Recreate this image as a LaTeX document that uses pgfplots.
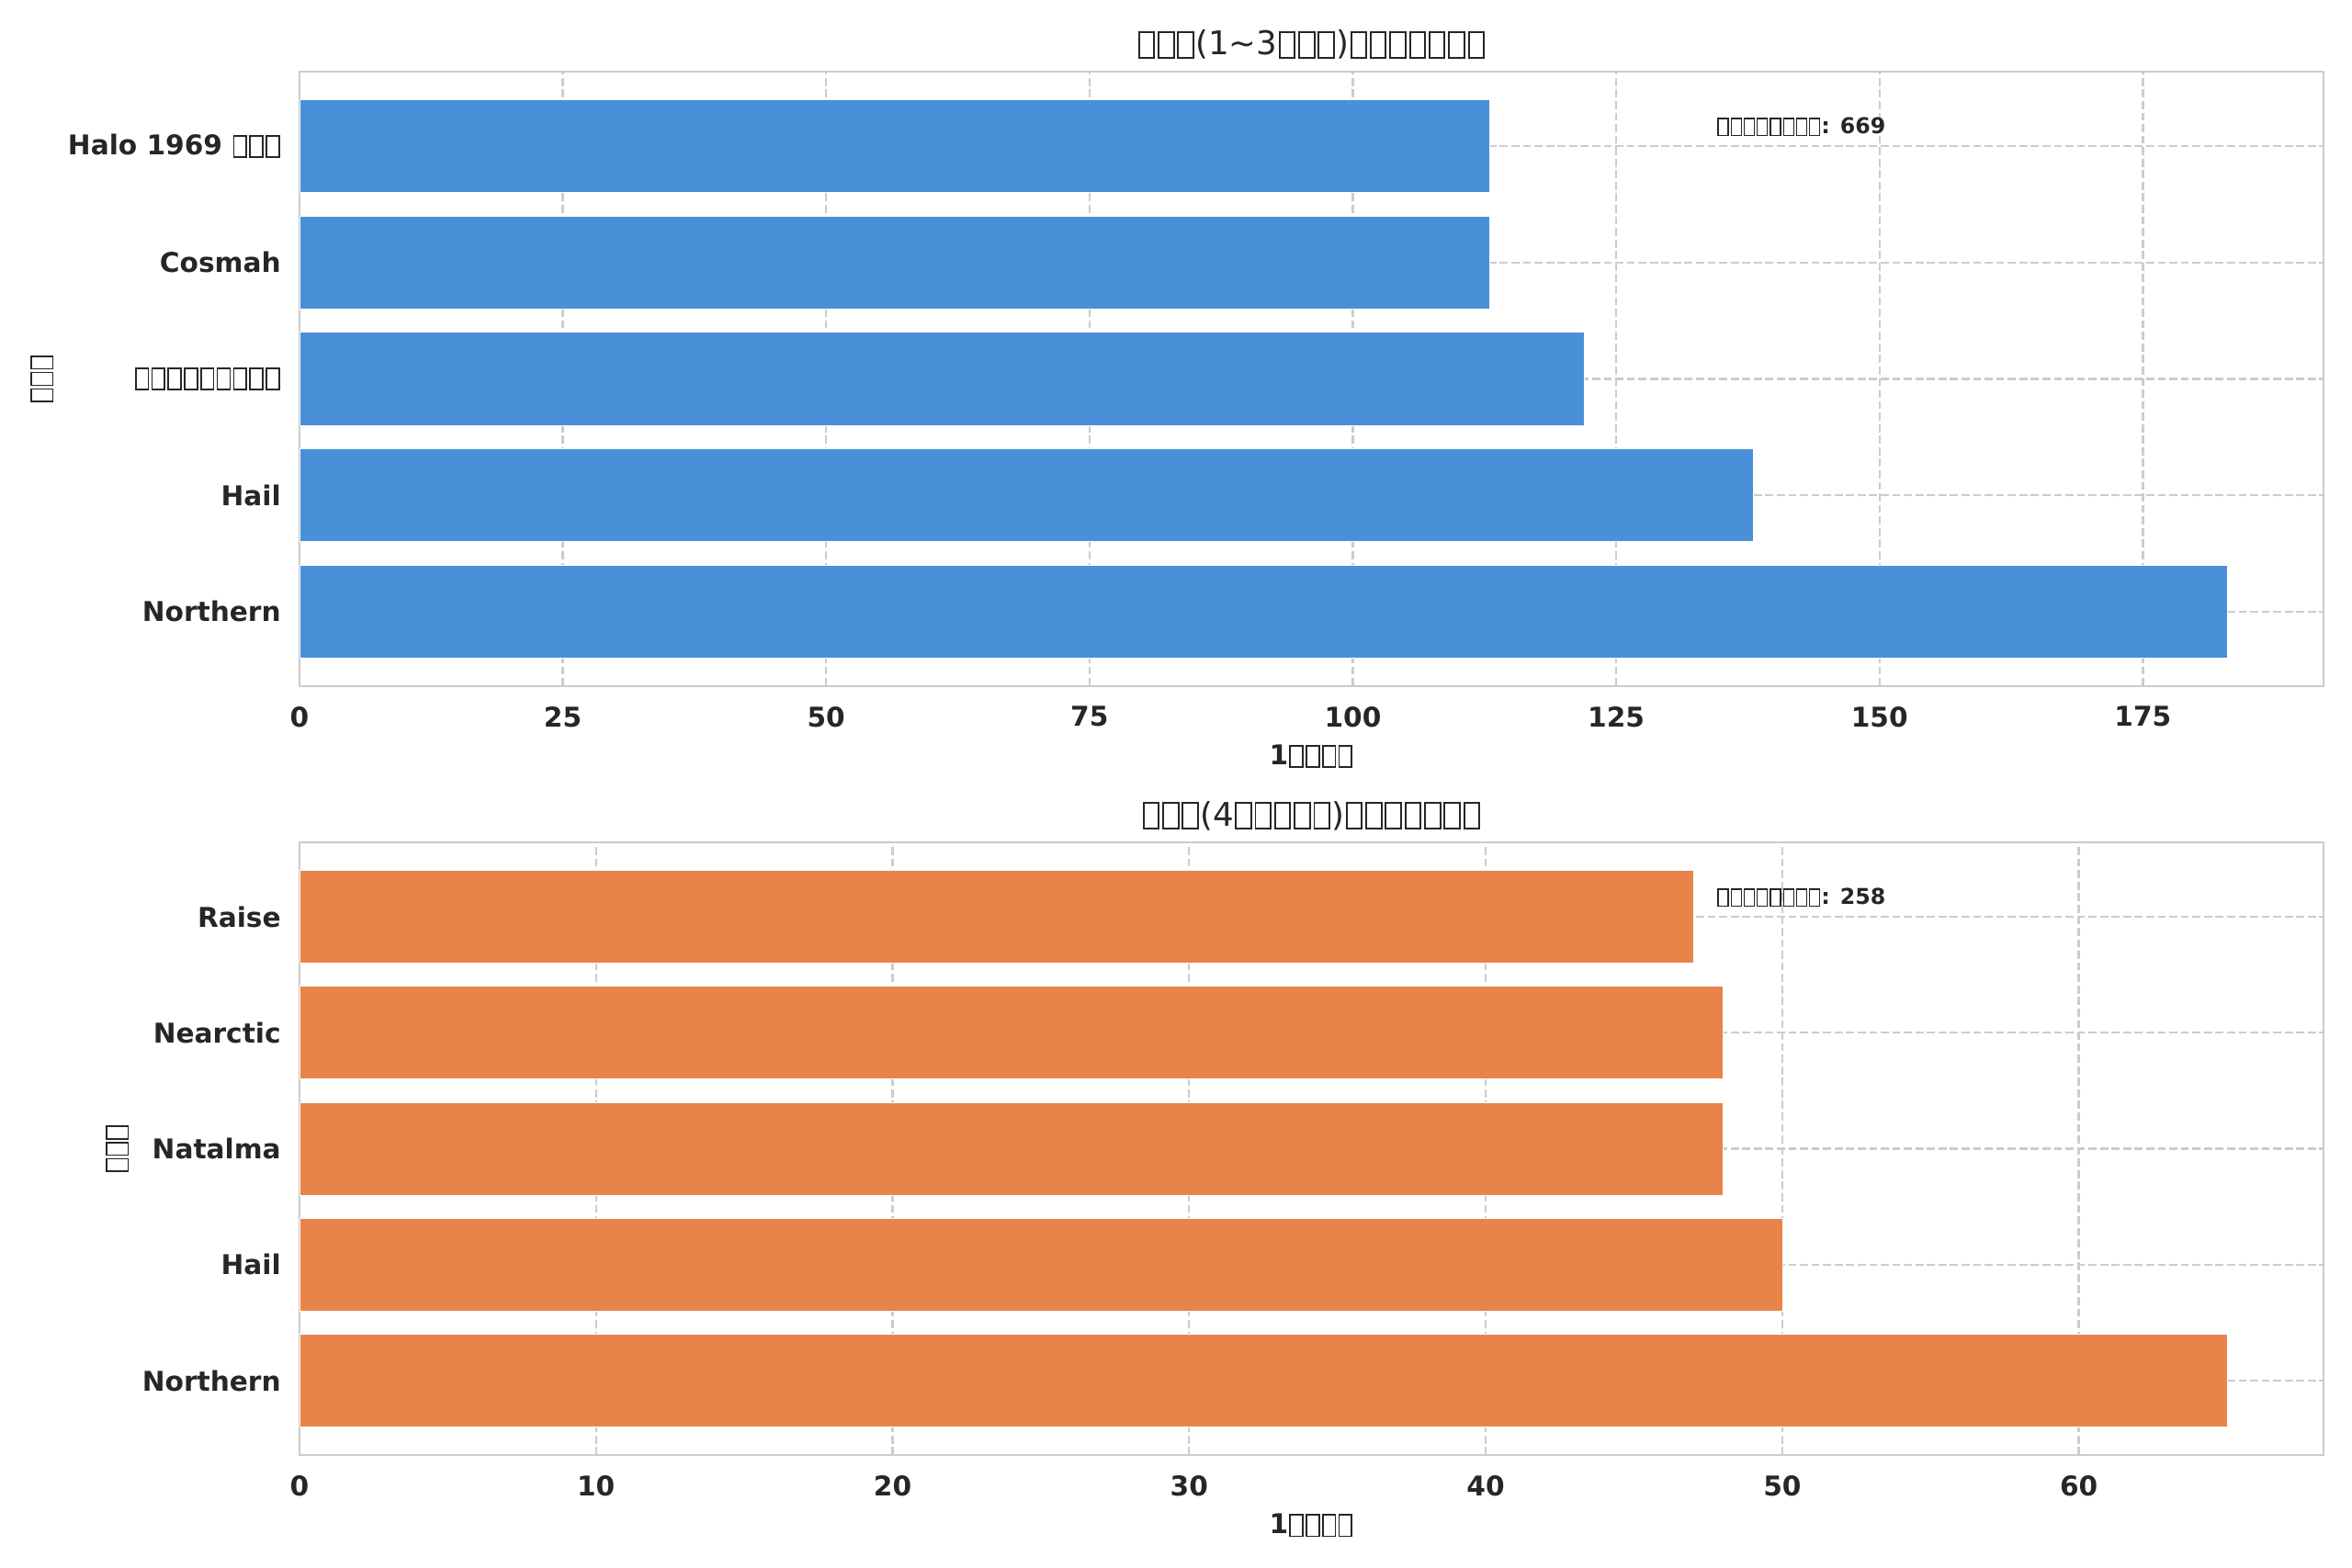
\documentclass[border=0pt]{standalone}
\usepackage{pgfplots}
\pgfplotsset{compat=1.18}
\usepackage{fontspec}
\setmainfont{DejaVu Sans}
\definecolor{txt}{HTML}{262626}
\definecolor{gridc}{HTML}{CCCCCC}
\definecolor{barblue}{HTML}{4A90D9}
\definecolor{barorange}{HTML}{E8844A}
\newcommand\tofu{\kern0.04em\hbox to 0.52em{\vrule width .055em height .72em depth .12em\hss\lower.12em\vbox to .84em{\hrule height .055em width .41em\vss\hrule height .055em width .41em}\hss\vrule width .055em height .72em depth .12em}\kern0.04em}
\newcommand\tofuiii{\tofu\tofu\tofu}
\pgfplotsset{mystyle/.style={
  scale only axis, width=929.4pt,
  xbar, bar width=0.8,
  xmin=0, ymin=-0.64, ymax=4.64,
  ytick={0,...,4},
  axis line style={draw=gridc, line width=1pt},
  major tick length=0pt,
  tick style={draw=none},
  xmajorgrids=true, ymajorgrids=true,
  major grid style={draw=gridc, line width=1pt, dash pattern=on 3.7pt off 1.6pt},
  ticklabel style={font=\fontsize{12.5}{15}\selectfont\bfseries, text=txt},
  /pgf/number format/assume math mode=true,
  xticklabel shift=5.8pt, yticklabel shift=5pt,
  xlabel style={at={(axis description cs:0.5,0)}, anchor=north, yshift=-23.4pt, font=\fontsize{12.5}{15}\selectfont\bfseries, text=txt},
  ylabel style={anchor=center, font=\fontsize{12.5}{15}\selectfont\bfseries, text=txt},
  title style={at={(axis description cs:0.5,1)}, anchor=base, yshift=1.6pt, font=\fontsize{15}{18}\selectfont, text=txt},
}}
\begin{document}
\begin{tikzpicture}
\path[use as bounding box] (0,0) rectangle (1080pt,-720pt);
\begin{axis}[mystyle,
  at={(137.5pt,-32.9pt)}, anchor=north west, height=282.2pt,
  xmax=192.15, xtick={0,25,...,175},
  yticklabels={Northern,Hail,\tofuiii\tofuiii\tofuiii,Cosmah,Halo 1969 \tofuiii},
  title={\tofuiii(1\textasciitilde3\tofuiii)\tofuiii\tofuiii\tofu},
  xlabel={1\tofu\tofu\tofu\tofu},
  ylabel={\tofuiii},
  ylabel style={at={(axis description cs:-0.1271,0.5)}},
]
\addplot[fill=barblue, draw=white, line width=0.3pt] coordinates {(183,0) (138,1) (122,2) (113,3) (113,4)};
\node[anchor=west, font=\fontsize{10}{12}\selectfont\bfseries, text=txt, inner sep=0pt] at (rel axis cs:0.7,0.91) {\tofu\tofu\tofu\tofu\tofu\tofu\tofu\tofu: 669};
\end{axis}
\begin{axis}[mystyle,
  at={(137.5pt,-386.9pt)}, anchor=north west, height=281.4pt,
  xmax=68.25, xtick={0,10,...,60},
  yticklabels={Northern,Hail,Natalma,Nearctic,Raise},
  title={\tofuiii(4\tofu\tofu\tofu\tofu\tofu)\tofuiii\tofuiii\tofu},
  xlabel={1\tofu\tofu\tofu\tofu},
  ylabel={\tofuiii},
  ylabel style={at={(axis description cs:-0.0899,0.5)}},
]
\addplot[fill=barorange, draw=white, line width=0.3pt] coordinates {(65,0) (50,1) (48,2) (48,3) (47,4)};
\node[anchor=west, font=\fontsize{10}{12}\selectfont\bfseries, text=txt, inner sep=0pt] at (rel axis cs:0.7,0.91) {\tofu\tofu\tofu\tofu\tofu\tofu\tofu\tofu: 258};
\end{axis}
\end{tikzpicture}
\end{document}
